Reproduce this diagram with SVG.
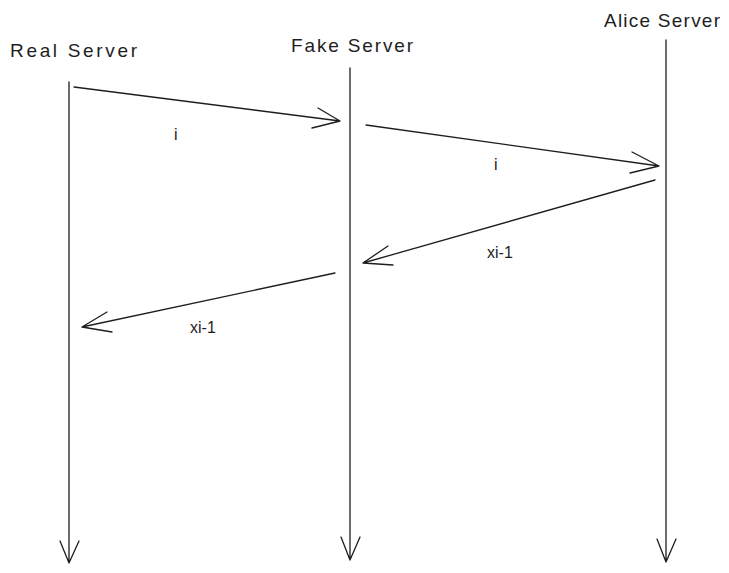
<svg xmlns="http://www.w3.org/2000/svg" width="729" height="573" viewBox="0 0 729 573">
<style>
.ln{stroke:#1e1e1e;stroke-width:1.3;fill:none;stroke-linecap:round;stroke-linejoin:round}
.t{font-family:"Liberation Sans",Arial,sans-serif;fill:#1e1e1e}
.h{font-size:19px}
.l{font-size:16px}
</style>
<rect width="729" height="573" fill="#fff"/>
<g id="real-server">
<text class="t h" x="10" y="57" textLength="127" lengthAdjust="spacing">Real Server</text>
<path class="ln" d="M69 82 L69 563 M60 541 L69 563 L79 541"/>
</g>
<g id="fake-server">
<text class="t h" x="291" y="52" textLength="122" lengthAdjust="spacing">Fake Server</text>
<path class="ln" d="M350 68 L350 560 M341 537 L350 560 L360 537"/>
</g>
<g id="alice-server">
<text class="t h" x="604" y="27" textLength="116" lengthAdjust="spacing">Alice Server</text>
<path class="ln" d="M666 40 L666 562 M657 539 L666 562 L676 539"/>
</g>
<g id="connectors">
<path class="ln" d="M74 87 L340 121 M318 108 L340 121 L312 128"/>
<text class="t l" x="174" y="140">i</text>
<path class="ln" d="M366 125 L659 166 M632 152 L659 166 L630 173"/>
<text class="t l" x="494" y="170">i</text>
<path class="ln" d="M655 180 L363 263 M388 246 L363 263 L393 265"/>
<text class="t l" x="487" y="258">xi-1</text>
<path class="ln" d="M335 273 L82 327 M107 312 L82 327 L112 332"/>
<text class="t l" x="190" y="333">xi-1</text>
</g>
</svg>
